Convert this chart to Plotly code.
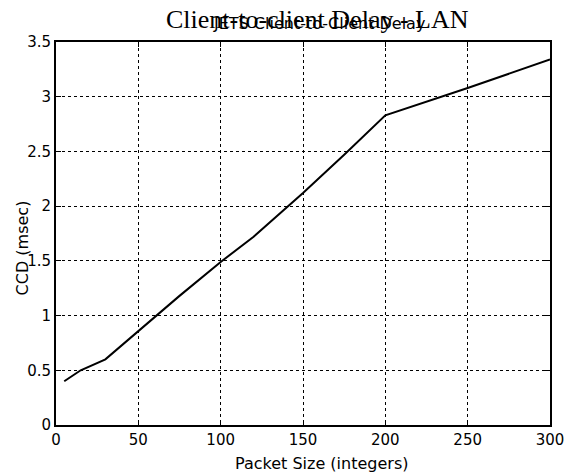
import plotly.graph_objects as go

packet_size = [5, 15, 30, 50, 75, 100, 120, 150, 175, 200, 250, 300]
ccd_msec = [0.40, 0.50, 0.60, 0.86, 1.18, 1.49, 1.72, 2.12, 2.47, 2.83, 3.08, 3.34]

x_ticks = [0, 50, 100, 150, 200, 250, 300]
y_ticks = [0, 0.5, 1, 1.5, 2, 2.5, 3, 3.5]
y_tick_labels = ["0", "0.5", "1", "1.5", "2", "2.5", "3", "3.5"]

title_main = "Client-to-client Delay - LAN"
title_overlay = "JETS Client-to-Client Delay"
x_label = "Packet Size (integers)"
y_label = "CCD (msec)"

W, H = 576, 476
L, T = 56, 42
R = W - 556
B = H - 425
pw, ph = W - L - R, H - T - B

def px(xp):
    return (xp - L) / pw

def py(yp):
    return (H - B - yp) / ph

fig = go.Figure()
fig.add_trace(go.Scatter(x=packet_size, y=ccd_msec, mode="lines",
                         line=dict(color="black", width=2), showlegend=False))

axis_common = dict(showline=True, linecolor="black", linewidth=2, mirror="ticks",
                   ticks="inside", ticklen=5, tickcolor="black", tickwidth=1,
                   showgrid=True, gridcolor="black", gridwidth=1, griddash="dot",
                   zeroline=False, tickfont=dict(family="DejaVu Sans", size=15, color="black"))

fig.update_xaxes(range=[0, 300], tickvals=x_ticks, ticktext=[str(v) for v in x_ticks], **axis_common)
fig.update_yaxes(range=[0, 3.5], tickvals=y_ticks, ticktext=y_tick_labels, **axis_common)

fig.add_annotation(text=title_main, xref="paper", yref="paper", x=px(321), y=py(20),
                   xanchor="center", yanchor="middle", showarrow=False,
                   font=dict(family="Liberation Serif", size=26, color="black"))
fig.add_annotation(text=title_overlay, xref="paper", yref="paper", x=px(322), y=py(23),
                   xanchor="center", yanchor="middle", showarrow=False,
                   font=dict(family="DejaVu Sans", size=16, color="black"))
fig.add_annotation(text=x_label, xref="paper", yref="paper", x=px(325), y=py(463),
                   xanchor="center", yanchor="middle", showarrow=False,
                   font=dict(family="DejaVu Sans", size=16, color="black"))
fig.add_annotation(text=y_label, xref="paper", yref="paper", x=px(22), y=py(248),
                   xanchor="center", yanchor="middle", showarrow=False, textangle=-90,
                   font=dict(family="DejaVu Sans", size=16, color="black"))

fig.update_layout(width=W, height=H, margin=dict(l=L, r=R, t=T, b=B),
                  paper_bgcolor="white", plot_bgcolor="white", hovermode=False)

fig.write_html("out.html", config={"displayModeBar": False},
               post_script="document.body.style.margin='0';document.body.style.overflow='hidden';")
